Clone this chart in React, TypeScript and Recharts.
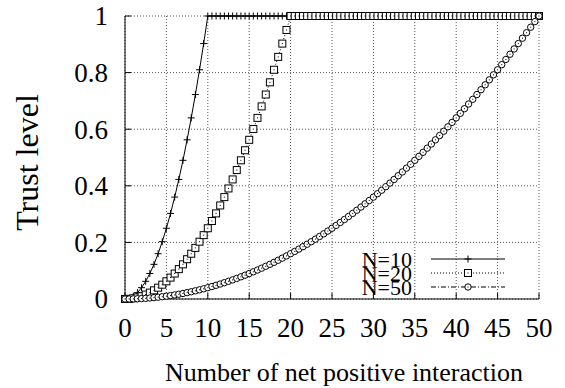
import React from "react";
import { LineChart, Line, XAxis, YAxis, CartesianGrid, Label } from "recharts";

const FONT = '"Liberation Serif", "Times New Roman", serif';

// x positions of the samples (step 0.5)
const X = [
  0, 0.5, 1, 1.5, 2, 2.5, 3, 3.5, 4, 4.5, 5, 5.5, 6, 6.5, 7, 7.5, 8, 8.5, 9, 9.5,
  10, 10.5, 11, 11.5, 12, 12.5, 13, 13.5, 14, 14.5, 15, 15.5, 16, 16.5, 17, 17.5,
  18, 18.5, 19, 19.5, 20, 20.5, 21, 21.5, 22, 22.5, 23, 23.5, 24, 24.5, 25, 25.5,
  26, 26.5, 27, 27.5, 28, 28.5, 29, 29.5, 30, 30.5, 31, 31.5, 32, 32.5, 33, 33.5,
  34, 34.5, 35, 35.5, 36, 36.5, 37, 37.5, 38, 38.5, 39, 39.5, 40, 40.5, 41, 41.5,
  42, 42.5, 43, 43.5, 44, 44.5, 45, 45.5, 46, 46.5, 47, 47.5, 48, 48.5, 49, 49.5, 50,
];

const N10 = [
  0, 0.0025, 0.01, 0.0225, 0.04, 0.0625, 0.09, 0.1225, 0.16, 0.2025, 0.25, 0.3025,
  0.36, 0.4225, 0.49, 0.5625, 0.64, 0.7225, 0.81, 0.9025, 1, 1, 1, 1, 1, 1, 1, 1, 1,
  1, 1, 1, 1, 1, 1, 1, 1, 1, 1, 1, 1, 1, 1, 1, 1, 1, 1, 1, 1, 1, 1, 1, 1, 1, 1, 1, 1,
  1, 1, 1, 1, 1, 1, 1, 1, 1, 1, 1, 1, 1, 1, 1, 1, 1, 1, 1, 1, 1, 1, 1, 1, 1, 1, 1, 1,
  1, 1, 1, 1, 1, 1, 1, 1, 1, 1, 1, 1, 1, 1, 1, 1,
];

const N20 = [
  0, 0.0006, 0.0025, 0.0056, 0.01, 0.0156, 0.0225, 0.0306, 0.04, 0.0506, 0.0625,
  0.0756, 0.09, 0.1056, 0.1225, 0.1406, 0.16, 0.1806, 0.2025, 0.2256, 0.25, 0.2756,
  0.3025, 0.3306, 0.36, 0.3906, 0.4225, 0.4556, 0.49, 0.5256, 0.5625, 0.6006, 0.64,
  0.6806, 0.7225, 0.7656, 0.81, 0.8556, 0.9025, 0.9506, 1, 1, 1, 1, 1, 1, 1, 1, 1, 1,
  1, 1, 1, 1, 1, 1, 1, 1, 1, 1, 1, 1, 1, 1, 1, 1, 1, 1, 1, 1, 1, 1, 1, 1, 1, 1, 1, 1,
  1, 1, 1, 1, 1, 1, 1, 1, 1, 1, 1, 1, 1, 1, 1, 1, 1, 1, 1, 1, 1, 1, 1,
];

const N50 = [
  0, 0.0001, 0.0004, 0.0009, 0.0016, 0.0025, 0.0036, 0.0049, 0.0064, 0.0081, 0.01,
  0.0121, 0.0144, 0.0169, 0.0196, 0.0225, 0.0256, 0.0289, 0.0324, 0.0361, 0.04,
  0.0441, 0.0484, 0.0529, 0.0576, 0.0625, 0.0676, 0.0729, 0.0784, 0.0841, 0.09,
  0.0961, 0.1024, 0.1089, 0.1156, 0.1225, 0.1296, 0.1369, 0.1444, 0.1521, 0.16,
  0.1681, 0.1764, 0.1849, 0.1936, 0.2025, 0.2116, 0.2209, 0.2304, 0.2401, 0.25,
  0.2601, 0.2704, 0.2809, 0.2916, 0.3025, 0.3136, 0.3249, 0.3364, 0.3481, 0.36,
  0.3721, 0.3844, 0.3969, 0.4096, 0.4225, 0.4356, 0.4489, 0.4624, 0.4761, 0.49,
  0.5041, 0.5184, 0.5329, 0.5476, 0.5625, 0.5776, 0.5929, 0.6084, 0.6241, 0.64,
  0.6561, 0.6724, 0.6889, 0.7056, 0.7225, 0.7396, 0.7569, 0.7744, 0.7921, 0.81,
  0.8281, 0.8464, 0.8649, 0.8836, 0.9025, 0.9216, 0.9409, 0.9604, 0.9801, 1,
];

const X_TICKS = [0, 5, 10, 15, 20, 25, 30, 35, 40, 45, 50];
const Y_TICKS = [0, 0.2, 0.4, 0.6, 0.8, 1];

type Marker = "plus" | "square" | "circle";

const SERIES: { key: string; label: string; dash?: string; marker: Marker }[] = [
  { key: "n10", label: "N=10", marker: "plus" },
  { key: "n20", label: "N=20", dash: "1 2", marker: "square" },
  { key: "n50", label: "N=50", dash: "5 2 1 2", marker: "circle" },
];

function MarkerShape({ kind, cx, cy }: { kind: Marker; cx: number; cy: number }) {
  if (kind === "plus") {
    return (
      <g stroke="#000" strokeWidth={1}>
        <line x1={cx - 3.5} y1={cy} x2={cx + 3.5} y2={cy} />
        <line x1={cx} y1={cy - 3.5} x2={cx} y2={cy + 3.5} />
      </g>
    );
  }
  if (kind === "square") {
    return (
      <g>
        <rect x={cx - 3.5} y={cy - 3.5} width={7} height={7} fill="#fff" stroke="#000" strokeWidth={1} />
        <rect x={cx - 0.5} y={cy - 0.5} width={1} height={1} fill="#000" />
      </g>
    );
  }
  return (
    <g>
      <circle cx={cx} cy={cy} r={3.2} fill="#fff" stroke="#000" strokeWidth={1} />
      <rect x={cx - 0.5} y={cy - 0.5} width={1} height={1} fill="#000" />
    </g>
  );
}

function AxisTick(props: any) {
  const { x, y, payload, textAnchor, orientation } = props;
  return (
    <text
      x={x}
      y={y}
      dy={orientation === "bottom" ? "0.71em" : "0.35em"}
      textAnchor={textAnchor}
      fill="#000"
      style={{ fontFamily: FONT, fontSize: 27 }}
    >
      {payload.value}
    </text>
  );
}

function LegendBox() {
  return (
    <svg
      width={565}
      height={388}
      style={{ position: "absolute", left: 0, top: 0, pointerEvents: "none" }}
    >
      {SERIES.map((s, i) => {
        const y = 259 + i * 14;
        return (
          <g key={s.key}>
            <text
              x={412}
              y={y + 8}
              textAnchor="end"
              style={{ fontFamily: FONT, fontSize: 22 }}
              fill="#000"
            >
              {s.label}
            </text>
            <line x1={431} y1={y} x2={505} y2={y} stroke="#000" strokeDasharray={s.dash} />
            <MarkerShape kind={s.marker} cx={468} cy={y} />
          </g>
        );
      })}
    </svg>
  );
}

export default function App() {
  const data = X.map((x, i) => ({ x, n10: N10[i], n20: N20[i], n50: N50[i] }));

  return (
    <div
      style={{
        position: "fixed",
        left: 0,
        top: 0,
        width: 565,
        height: 388,
        background: "#fff",
        fontFamily: FONT,
      }}
    >
      <LineChart width={565} height={388} data={data} margin={{ top: 16, right: 26, left: 0, bottom: 0 }}>
        <CartesianGrid stroke="#555" strokeDasharray="1 2" />
        <XAxis
          dataKey="x"
          type="number"
          domain={[0, 50]}
          ticks={X_TICKS}
          height={89}
          stroke="#000"
          tickSize={-6}
          tickMargin={25}
          tick={<AxisTick orientation="bottom" />}
        >
          <Label
            value="Number of net positive interaction"
            position="insideBottom"
            offset={7}
            dx={12}
            style={{ fontFamily: FONT, fontSize: 26, fill: "#000" }}
          />
        </XAxis>
        <XAxis
          xAxisId="top"
          orientation="top"
          dataKey="x"
          type="number"
          domain={[0, 50]}
          ticks={X_TICKS}
          height={0}
          stroke="#000"
          tickSize={-6}
          tick={false}
        />
        <YAxis
          type="number"
          domain={[0, 1]}
          ticks={Y_TICKS}
          width={125}
          stroke="#000"
          tickSize={-6}
          tickMargin={23}
          tick={<AxisTick orientation="left" />}
        >
          <Label
            value="Trust level"
            angle={-90}
            position="center"
            dx={-36}
            dy={5}
            style={{ fontFamily: FONT, fontSize: 32, fill: "#000", textAnchor: "middle" }}
          />
        </YAxis>
        <YAxis
          yAxisId="right"
          orientation="right"
          type="number"
          domain={[0, 1]}
          ticks={Y_TICKS}
          width={0}
          stroke="#000"
          tickSize={-6}
          tick={false}
        />
        {SERIES.map((s) => (
          <Line
            key={s.key}
            dataKey={s.key}
            type="linear"
            stroke="#000"
            strokeWidth={1}
            strokeDasharray={s.dash}
            isAnimationActive={false}
            dot={(p: any) => (
              <MarkerShape key={`${s.key}-${p.index}`} kind={s.marker} cx={p.cx} cy={p.cy} />
            )}
            activeDot={false}
          />
        ))}
      </LineChart>
      <LegendBox />
    </div>
  );
}
